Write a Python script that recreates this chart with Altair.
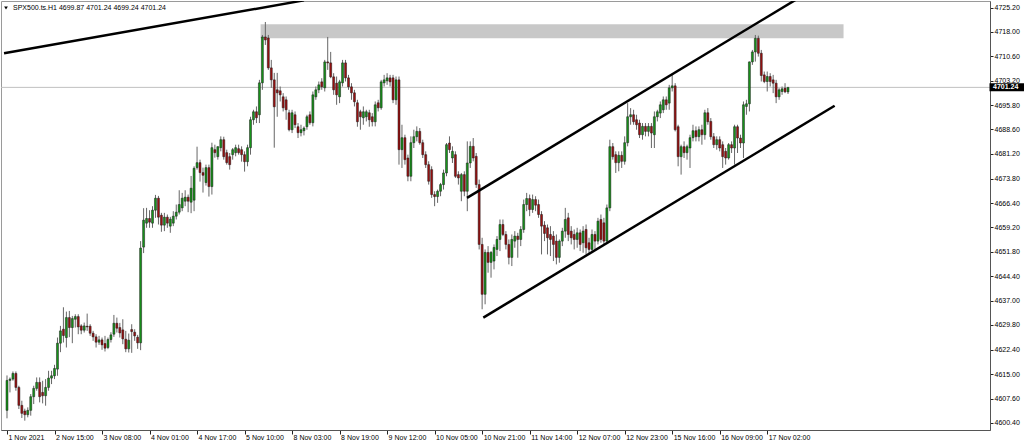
import altair as alt
import pandas as pd

# SPX500.ts, H1 candles from 1 Nov 2021 to 17 Nov 2021 (one entry per hourly bar)
opens = [
    4604.1, 4613.1, 4613.5, 4615.2, 4611.0, 4605.6, 4603.9, 4602.8, 4604.1, 4608.2,
    4610.7, 4612.5, 4609.5, 4608.5, 4611.0, 4613.8, 4614.5, 4616.5, 4624.3, 4628.5,
    4626.0, 4632.0, 4629.0, 4631.5, 4632.3, 4629.5, 4628.2, 4629.4, 4629.4, 4627.3,
    4626.2, 4624.6, 4625.3, 4624.2, 4623.0, 4625.4, 4627.0, 4630.3, 4629.0, 4628.3,
    4625.5, 4622.6, 4628.4, 4627.6, 4626.1, 4624.4, 4653.2, 4660.4, 4661.8, 4660.4,
    4664.3, 4667.9, 4662.8, 4659.8, 4662.2, 4659.5, 4660.4, 4662.5, 4663.7, 4665.0,
    4667.0, 4668.2, 4666.7, 4667.3, 4677.1, 4678.6, 4675.6, 4672.6, 4677.1, 4671.4,
    4682.5, 4680.4, 4683.1, 4685.5, 4681.6, 4680.4, 4681.0, 4681.6, 4682.8, 4682.5,
    4681.0, 4678.9, 4683.1, 4691.5, 4693.9, 4693.0, 4702.6, 4716.4, 4716.1, 4707.1,
    4703.5, 4700.5, 4700.2, 4698.4, 4697.5, 4693.6, 4688.5, 4693.0, 4689.4, 4687.6,
    4688.2, 4689.4, 4693.0, 4690.6, 4698.4, 4700.5, 4702.9, 4701.1, 4708.9, 4708.6,
    4704.4, 4702.5, 4698.4, 4702.6, 4708.6, 4704.1, 4701.4, 4699.6, 4696.6, 4693.9,
    4692.1, 4692.4, 4693.6, 4692.4, 4690.9, 4696.6, 4695.1, 4702.6, 4703.2, 4704.1,
    4704.1, 4697.5, 4703.5, 4682.5, 4686.1, 4680.0, 4674.5, 4684.6, 4686.4, 4688.0,
    4684.6, 4681.0, 4678.0, 4676.5, 4669.0, 4668.4, 4670.0, 4672.0, 4675.5, 4684.5,
    4680.0, 4681.0, 4675.0, 4670.0, 4675.0, 4670.0, 4678.5, 4683.5, 4680.5, 4672.0,
    4654.0, 4639.0, 4651.6, 4648.6, 4649.0, 4652.5, 4655.5, 4660.0, 4657.0, 4654.0,
    4650.1, 4655.0, 4656.5, 4655.5, 4658.5, 4666.0, 4667.8, 4664.5, 4667.5, 4666.0,
    4663.0, 4659.8, 4659.0, 4657.0, 4656.5, 4655.0, 4650.1, 4655.0, 4658.0, 4662.0,
    4658.0, 4657.0, 4655.5, 4657.5, 4654.5, 4658.5, 4654.5, 4652.5, 4657.0, 4655.0,
    4661.5, 4660.5, 4655.0, 4665.0, 4683.4, 4681.0, 4678.6, 4680.8, 4679.0, 4684.6,
    4692.4, 4693.0, 4691.5, 4690.5, 4687.0, 4689.5, 4688.0, 4689.5, 4687.0, 4692.4,
    4693.5, 4694.5, 4697.5, 4696.5, 4701.1, 4701.7, 4689.4, 4680.4, 4683.4, 4681.6,
    4683.0, 4686.1, 4688.2, 4686.4, 4688.5, 4687.0, 4693.6, 4691.0, 4686.4, 4684.0,
    4685.5, 4684.0, 4682.0, 4680.0, 4684.0, 4683.0, 4689.4, 4686.0, 4684.5, 4695.5,
    4696.3, 4708.9, 4711.9, 4716.0, 4711.5, 4705.0, 4703.0, 4704.5, 4703.5, 4702.5,
    4698.4, 4700.0, 4701.0, 4699.87,
]
highs = [
    4614.6, 4614.0, 4615.8, 4615.8, 4611.5, 4607.0, 4604.6, 4605.0, 4609.0, 4611.5,
    4614.0, 4614.0, 4613.0, 4613.5, 4616.0, 4616.0, 4617.8, 4626.0, 4629.5, 4635.1,
    4633.8, 4634.0, 4632.5, 4633.0, 4633.0, 4630.0, 4630.5, 4633.2, 4630.0, 4628.0,
    4627.0, 4626.5, 4626.0, 4626.5, 4626.0, 4627.6, 4632.8, 4632.0, 4630.4, 4631.5,
    4628.0, 4627.2, 4630.0, 4628.5, 4626.8, 4655.0, 4664.9, 4665.0, 4664.3, 4665.5,
    4668.9, 4668.6, 4663.5, 4663.5, 4663.0, 4662.3, 4664.0, 4666.0, 4670.3, 4669.5,
    4670.3, 4669.0, 4674.6, 4677.5, 4683.4, 4679.5, 4677.1, 4678.0, 4678.0, 4684.6,
    4684.0, 4683.5, 4686.5, 4686.4, 4682.5, 4681.5, 4683.0, 4684.0, 4684.0, 4683.5,
    4682.0, 4684.0, 4692.4, 4694.5, 4695.5, 4703.5, 4717.0, 4720.9, 4717.0, 4709.5,
    4705.6, 4705.6, 4701.5, 4699.5, 4698.5, 4694.5, 4694.5, 4694.0, 4690.5, 4690.0,
    4689.5, 4693.0, 4694.0, 4700.0, 4701.5, 4703.0, 4704.0, 4709.5, 4716.4, 4711.9,
    4705.5, 4704.5, 4703.5, 4709.5, 4709.5, 4705.0, 4702.5, 4700.5, 4697.5, 4694.5,
    4695.5, 4694.5, 4694.5, 4693.5, 4697.0, 4697.5, 4703.5, 4705.0, 4705.5, 4705.0,
    4705.0, 4704.5, 4704.5, 4690.0, 4687.0, 4681.0, 4686.5, 4688.5, 4689.5, 4689.0,
    4685.5, 4682.0, 4679.0, 4677.5, 4670.0, 4670.5, 4672.5, 4676.5, 4684.5, 4686.5,
    4683.5, 4682.0, 4676.0, 4675.5, 4676.0, 4685.0, 4685.0, 4686.0, 4681.5, 4673.5,
    4656.0, 4652.5, 4653.5, 4652.0, 4654.0, 4656.5, 4661.5, 4661.5, 4658.0, 4655.5,
    4657.0, 4658.0, 4657.5, 4659.5, 4667.5, 4669.5, 4669.0, 4669.0, 4668.5, 4667.5,
    4664.0, 4661.0, 4660.0, 4659.5, 4658.0, 4657.0, 4655.5, 4659.0, 4665.0, 4663.5,
    4659.5, 4658.5, 4659.0, 4658.5, 4659.5, 4660.0, 4656.0, 4658.5, 4658.0, 4662.0,
    4663.0, 4662.0, 4666.0, 4685.5, 4684.5, 4682.0, 4682.0, 4682.0, 4686.5, 4696.5,
    4695.0, 4694.5, 4693.0, 4691.5, 4690.5, 4690.5, 4690.5, 4690.5, 4694.0, 4694.5,
    4697.0, 4698.5, 4698.5, 4702.0, 4705.0, 4702.5, 4690.0, 4684.0, 4685.0, 4684.0,
    4687.0, 4690.0, 4689.5, 4689.5, 4690.0, 4694.5, 4695.0, 4692.0, 4687.5, 4686.5,
    4686.5, 4685.0, 4683.0, 4684.5, 4685.0, 4690.0, 4690.0, 4687.0, 4697.0, 4697.5,
    4709.0, 4712.5, 4717.0, 4716.8, 4712.5, 4706.0, 4706.0, 4705.5, 4705.0, 4703.5,
    4701.0, 4701.5, 4702.5, 4701.24,
]
lows = [
    4601.7, 4609.5, 4613.0, 4610.0, 4604.5, 4601.8, 4601.0, 4602.0, 4602.5, 4606.0,
    4610.0, 4606.5, 4606.2, 4605.5, 4610.0, 4612.0, 4613.5, 4614.5, 4621.6, 4624.5,
    4623.0, 4626.1, 4624.3, 4629.0, 4627.0, 4627.0, 4627.5, 4628.0, 4626.5, 4625.0,
    4623.0, 4623.8, 4622.3, 4621.8, 4622.5, 4624.5, 4626.2, 4627.5, 4626.0, 4624.0,
    4621.6, 4621.5, 4621.4, 4625.0, 4622.6, 4622.2, 4651.4, 4659.0, 4659.0, 4659.0,
    4662.0, 4660.0, 4657.8, 4658.0, 4659.0, 4657.5, 4659.5, 4661.5, 4663.0, 4664.0,
    4665.5, 4663.7, 4663.4, 4664.0, 4676.5, 4672.9, 4669.6, 4671.7, 4668.4, 4669.0,
    4680.1, 4679.5, 4682.0, 4679.5, 4678.0, 4676.5, 4679.5, 4680.5, 4681.0, 4678.9,
    4675.9, 4677.5, 4681.0, 4690.0, 4690.5, 4690.5, 4700.5, 4714.0, 4706.5, 4701.1,
    4683.1, 4692.4, 4697.0, 4694.0, 4691.5, 4688.0, 4687.5, 4689.0, 4686.0, 4686.5,
    4686.8, 4688.5, 4690.0, 4689.5, 4697.5, 4699.5, 4700.5, 4700.0, 4706.5, 4704.0,
    4699.0, 4696.0, 4696.5, 4701.5, 4703.0, 4700.5, 4697.5, 4695.5, 4689.4, 4688.5,
    4690.0, 4691.0, 4689.4, 4689.5, 4689.5, 4694.0, 4694.5, 4701.5, 4702.0, 4701.5,
    4696.5, 4696.0, 4678.0, 4677.0, 4678.0, 4673.0, 4673.0, 4683.0, 4685.0, 4684.0,
    4680.0, 4677.0, 4672.0, 4668.0, 4665.5, 4666.5, 4668.5, 4670.5, 4674.5, 4681.5,
    4678.5, 4674.0, 4672.0, 4667.0, 4668.5, 4664.0, 4677.0, 4679.0, 4671.0, 4652.5,
    4634.5, 4636.0, 4645.5, 4644.0, 4646.5, 4650.5, 4652.0, 4656.5, 4652.5, 4648.0,
    4647.5, 4653.0, 4650.0, 4653.5, 4657.5, 4664.0, 4662.5, 4663.5, 4664.0, 4662.0,
    4651.0, 4655.0, 4651.0, 4650.5, 4649.0, 4648.0, 4648.5, 4653.5, 4656.0, 4655.0,
    4654.0, 4652.5, 4653.0, 4652.0, 4651.5, 4651.0, 4651.2, 4651.5, 4652.5, 4654.0,
    4654.5, 4654.0, 4654.7, 4664.0, 4679.5, 4675.5, 4676.0, 4677.0, 4678.0, 4683.5,
    4690.0, 4690.0, 4688.5, 4686.0, 4685.5, 4686.5, 4686.5, 4683.0, 4683.0, 4691.0,
    4692.0, 4693.5, 4694.5, 4694.5, 4700.0, 4688.0, 4677.5, 4675.0, 4680.0, 4679.5,
    4677.0, 4685.0, 4685.0, 4685.0, 4684.0, 4685.5, 4690.0, 4685.5, 4683.0, 4682.5,
    4682.0, 4677.0, 4678.0, 4679.5, 4681.5, 4678.0, 4681.5, 4683.0, 4680.0, 4693.0,
    4694.0, 4708.0, 4709.0, 4710.5, 4703.0, 4702.5, 4700.0, 4701.5, 4699.5, 4696.5,
    4697.5, 4699.0, 4699.5, 4699.24,
]
closes = [
    4613.1, 4613.5, 4615.2, 4611.0, 4605.6, 4603.2, 4602.8, 4604.1, 4608.2, 4610.7,
    4612.5, 4608.2, 4608.5, 4611.0, 4613.8, 4614.5, 4616.7, 4624.3, 4628.0, 4626.6,
    4632.0, 4629.0, 4631.7, 4632.3, 4629.2, 4628.2, 4629.5, 4629.2, 4627.3, 4626.2,
    4624.6, 4625.3, 4623.8, 4622.8, 4625.4, 4626.8, 4630.3, 4628.8, 4627.4, 4625.6,
    4622.6, 4625.2, 4627.8, 4626.5, 4624.4, 4652.9, 4661.3, 4661.8, 4660.7, 4664.3,
    4667.9, 4662.2, 4659.8, 4662.2, 4660.4, 4661.6, 4662.5, 4663.7, 4666.0, 4667.9,
    4668.2, 4667.0, 4670.9, 4676.9, 4678.6, 4675.6, 4674.8, 4677.1, 4671.4, 4683.1,
    4681.6, 4683.4, 4685.5, 4680.4, 4678.6, 4678.0, 4682.5, 4683.1, 4681.6, 4681.0,
    4678.9, 4683.1, 4691.5, 4693.9, 4692.1, 4702.6, 4716.4, 4715.5, 4707.1, 4703.5,
    4695.4, 4699.6, 4699.0, 4695.1, 4694.5, 4688.5, 4693.6, 4690.0, 4687.6, 4688.5,
    4689.0, 4692.4, 4690.6, 4699.0, 4700.5, 4702.0, 4701.4, 4708.9, 4708.6, 4704.4,
    4700.5, 4699.0, 4702.9, 4708.6, 4704.1, 4701.4, 4699.6, 4696.9, 4690.9, 4692.4,
    4693.9, 4693.9, 4691.5, 4690.9, 4696.0, 4695.1, 4702.9, 4703.5, 4704.1, 4702.9,
    4697.5, 4703.5, 4682.5, 4686.1, 4679.5, 4674.5, 4684.6, 4686.4, 4688.0, 4684.6,
    4681.0, 4678.0, 4673.0, 4669.0, 4668.4, 4670.0, 4672.0, 4675.5, 4684.0, 4682.5,
    4682.0, 4674.5, 4674.0, 4675.0, 4670.0, 4678.5, 4683.5, 4680.0, 4672.0, 4654.0,
    4639.0, 4651.6, 4648.6, 4651.6, 4653.1, 4655.5, 4660.0, 4657.0, 4654.0, 4650.1,
    4655.5, 4656.5, 4655.5, 4658.5, 4666.0, 4667.8, 4664.5, 4667.5, 4665.8, 4663.0,
    4659.5, 4657.3, 4656.0, 4655.5, 4654.0, 4650.1, 4655.0, 4658.0, 4661.5, 4657.0,
    4656.0, 4655.5, 4657.5, 4654.0, 4658.0, 4653.0, 4652.5, 4657.0, 4655.0, 4661.0,
    4655.5, 4655.0, 4665.0, 4683.4, 4680.4, 4678.6, 4680.8, 4679.0, 4684.6, 4692.4,
    4693.0, 4690.9, 4690.0, 4687.0, 4689.5, 4688.0, 4689.5, 4687.5, 4692.4, 4693.9,
    4696.0, 4697.5, 4696.0, 4701.1, 4701.7, 4688.5, 4680.4, 4683.4, 4681.6, 4683.4,
    4686.1, 4688.2, 4686.4, 4688.5, 4687.0, 4693.6, 4690.9, 4686.4, 4684.0, 4685.5,
    4683.0, 4680.4, 4680.0, 4684.0, 4683.0, 4689.4, 4686.0, 4684.5, 4696.0, 4696.3,
    4708.9, 4711.9, 4716.0, 4711.5, 4704.8, 4703.0, 4704.5, 4703.0, 4702.5, 4698.4,
    4700.5, 4700.8, 4699.9, 4701.24,
]

# time axis: one label every 16 bars
tick_bars = [0, 16, 32, 48, 64, 80, 96, 112, 128, 144, 160, 176, 192, 208, 224, 240, 256]
tick_labels = [
    "1 Nov 2021", "2 Nov 15:00", "3 Nov 08:00", "4 Nov 01:00", "4 Nov 17:00",
    "5 Nov 10:00", "8 Nov 03:00", "8 Nov 19:00", "9 Nov 12:00", "10 Nov 05:00",
    "10 Nov 21:00", "11 Nov 14:00", "12 Nov 07:00", "12 Nov 23:00", "15 Nov 16:00",
    "16 Nov 09:00", "17 Nov 02:00",
]
# price scale labels
price_ticks = [
    4725.20, 4718.00, 4710.60, 4703.20, 4695.80, 4688.60, 4681.20, 4673.80, 4666.40,
    4659.20, 4651.80, 4644.40, 4637.00, 4629.80, 4622.40, 4615.00, 4607.60, 4600.40,
]

symbol = "SPX500.ts.H1"

# drawn objects: trend lines (bar index, price) and the resistance zone
trend_line_bars = [-1.0, 100.0]
trend_line_prices = [4711.5, 4727.4]
channel_top_bars = [154.9, 266.0]
channel_top_prices = [4668.0, 4727.8]
channel_bottom_bars = [160.4, 278.7]
channel_bottom_prices = [4632.0, 4695.7]
zone_bars = [85.4, 281.7]
zone_prices = [4716.0, 4720.2]

UP = "#17941a"
DOWN = "#9c1010"
FONT = "Liberation Sans"

n = len(closes)
candles = pd.DataFrame({
    "bar": list(range(n)),
    "open": opens,
    "high": highs,
    "low": lows,
    "close": closes,
})
candles["side"] = ["up" if c >= o else "down" for o, c in zip(opens, closes)]

lines_df = pd.concat([
    pd.DataFrame({"line": "trend", "bar": trend_line_bars, "price": trend_line_prices}),
    pd.DataFrame({"line": "top", "bar": channel_top_bars, "price": channel_top_prices}),
    pd.DataFrame({"line": "bottom", "bar": channel_bottom_bars, "price": channel_bottom_prices}),
])
zone_df = pd.DataFrame({"x1": [zone_bars[0]], "x2": [zone_bars[1]],
                        "p1": [zone_prices[0]], "p2": [zone_prices[1]]})
last_df = pd.DataFrame({"price": [closes[-1]]})
header = f"{symbol}  {opens[-1]:.2f} {highs[-1]:.2f} {lows[-1]:.2f} {closes[-1]:.2f}"
header_df = pd.DataFrame({"t": [header]})

W, H = 989, 429
x_scale = alt.Scale(domain=[-1 / 3, W / 3 - 1 / 3], nice=False, zero=False)
y_scale = alt.Scale(domain=[4598.19, 4727.215], nice=False, zero=False)

labels_js = "[" + ",".join(f"'{s}'" for s in tick_labels) + "]"
x_axis = alt.Axis(
    values=tick_bars, labelExpr=f"{labels_js}[round(datum.value / 16)]",
    orient="bottom", title=None, grid=False, tickSize=4, tickColor="#222",
    domainColor="#555", labelAlign="left", labelBaseline="top", labelPadding=-1,
    labelOffset=1, labelFont=FONT, labelFontSize=7, labelColor="#000",
    labelOverlap=False, labelFlush=False,
)
y_axis = alt.Axis(
    values=price_ticks, format=".2f", orient="right", title=None, grid=False,
    tickSize=3, tickColor="#222", domainColor="#555", labelPadding=1,
    labelFont=FONT, labelFontSize=7, labelColor="#000", labelOverlap=False,
    labelFlush=False, labelBaseline="middle",
)


def X(field):
    return alt.X(f"{field}:Q", scale=x_scale, axis=x_axis)


def Y(field):
    return alt.Y(f"{field}:Q", scale=y_scale, axis=y_axis)


zone = alt.Chart(zone_df).mark_rect(color="#c8c8c8").encode(
    x=X("x1"), x2="x2", y=Y("p1"), y2="p2")

price_line = alt.Chart(last_df).mark_rule(color="#c0c0c0", strokeWidth=1).encode(
    y=Y("price"), x=alt.value(0), x2=alt.value(W))

wicks = alt.Chart(candles).mark_rule(color="#666666", strokeWidth=1).encode(
    x=X("bar"), y=Y("low"), y2="high")

bodies = alt.Chart(candles).mark_bar(size=2, stroke="#1a1a1a", strokeWidth=0.5).encode(
    x=X("bar"), y=Y("open"), y2="close",
    color=alt.Color("side:N", scale=alt.Scale(domain=["up", "down"], range=[UP, DOWN]),
                    legend=None))

lines = alt.Chart(lines_df).mark_line(color="#000", strokeWidth=2.5, clip=True).encode(
    x=X("bar"), y=Y("price"), detail="line:N")

header_text = alt.Chart(header_df).mark_text(
    align="left", baseline="middle", font=FONT, fontSize=7, color="#000").encode(
    x=alt.value(12), y=alt.value(7), text="t:N")

header_arrow = alt.Chart(header_df).mark_point(
    shape="triangle-down", filled=True, size=14, color="#000", opacity=1).encode(
    x=alt.value(5), y=alt.value(7))

price_box = alt.Chart(last_df).mark_rule(color="#000", strokeWidth=8, strokeCap="butt").encode(
    y=Y("price"), x=alt.value(W - 0.5), x2=alt.value(1023))

price_tag = alt.Chart(last_df).mark_text(
    align="left", baseline="middle", font=FONT, fontSize=7, color="#fff",
    fontWeight="bold").encode(
    y=Y("price"), x=alt.value(W + 3), text=alt.Text("price:Q", format=".2f"))

chart = alt.layer(
    zone, price_line, wicks, bodies, lines, header_text, header_arrow, price_box, price_tag
).properties(
    width=W, height=H, autosize=alt.AutoSizeParams(type="none"),
    padding={"left": 1, "top": 1, "right": 34, "bottom": 17},
    background="#ffffff",
).configure_view(stroke="#9a9a9a", strokeWidth=1)

chart.save("out.html", embed_options={"renderer": "svg", "actions": False})
